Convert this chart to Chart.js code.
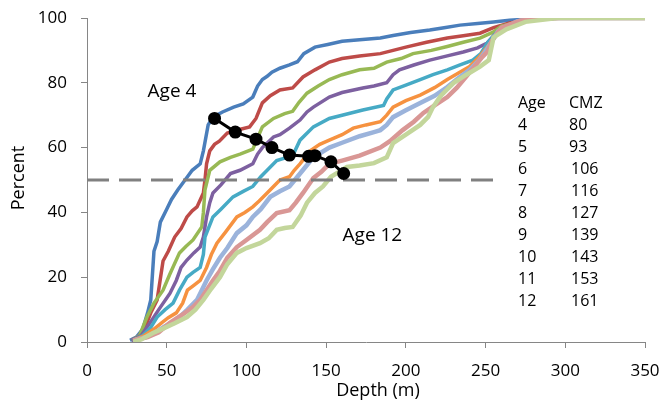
<!DOCTYPE html>
<html>
<head>
<meta charset="utf-8">
<script src="https://cdn.jsdelivr.net/npm/chart.js@4.4.1/dist/chart.umd.min.js"></script>
<style>
  body { margin: 0; background: #fff; }
  #wrap { width: 665px; height: 411px; position: relative; }
</style>
</head>
<body>
<div id="wrap"><canvas id="chart"></canvas></div>
<script>
// cumulative percent vs depth, one curve per age: [depth, percent]
const age4 = [[27,0.5],[31,1.5],[35,4],[38,9],[40,13],[42,28],[44,31],[46,37],[50,41],[53,44],[57,47],[60,49],[63,51],[66,53],[71,55],[73,59],[76,67],[79,69.4],[85,71],[92,72.5],[98,73.5],[104,75.6],[107,79],[110,81],[113,82],[116,83.3],[121,84.5],[127,85.5],[132,86.5],[136,89],[143,91],[151,91.8],[160,92.8],[171,93.3],[184,93.8],[192,94.6],[203,95.5],[215,96.3],[224,97],[234,97.8],[245,98.3],[255,98.8],[265,99.3],[280,99.8],[300,100],[350,100]];
const age5 = [[28,0.5],[32,1.5],[36,4],[40,9],[44,13],[47.7,25],[51,28],[55,32.4],[59,35],[62.7,38.6],[66,40.5],[69,41.7],[73,46],[74,50],[75,55],[77,59],[80,61],[83,62],[88,64.5],[95,65.5],[102,66.4],[106,69],[110,73.8],[115,76],[121,77.8],[129,78.4],[135.5,81.8],[143,84],[152,86.4],[160,87.5],[171,88.3],[184,89],[192,90],[200,91],[213,92.5],[226,93.8],[236,94.5],[246.5,95.3],[255,97],[265,98.5],[280,99.5],[300,100],[350,100]];
const age6 = [[28,0.5],[33,2],[37.6,7.7],[42,12],[47.7,16],[52,21],[58,27.5],[62,29.5],[66.5,31.5],[72,35.5],[73,40],[74,47],[77,53],[83.4,55.6],[90,57],[96,58],[104,59.5],[107,63],[110,66.4],[117,69],[124,70.5],[129,71.2],[133,74],[138,76.8],[145,79],[152,81],[160,82.5],[171,84],[180,84.5],[188,86.4],[197,87.5],[204.5,89],[216,90],[226,91.2],[236,92.5],[246.5,93.8],[255,95.7],[260,97.5],[275,99.3],[295,100],[350,100]];
const age7 = [[28,0.5],[34,2],[39.5,5.9],[45,10],[52,15],[56,19],[59,23],[62.7,25.3],[67,27.5],[71,29.3],[73,32.4],[75,38.6],[77,43],[79,46],[84,48.5],[90,52],[96,53],[104,55],[107,58],[110,60],[117,63.3],[121,64],[127,66],[133.6,68.5],[138,71],[142,72.5],[152,75.6],[160,77],[173,78.4],[180,79],[188,80],[192,82.5],[196,84],[205,85.5],[215,87],[226,88.3],[236,89.5],[245,90.8],[251,92.3],[255,94.5],[262,97.5],[278,99.3],[295,100],[350,100]];
const age8 = [[29,0.5],[35,2],[40,4.5],[44,7.7],[49,10],[54,12],[58,16],[62.7,20],[66.5,21.5],[71,23],[73,27],[74,32.4],[79,38.6],[84,41],[91.6,44.8],[98,46.5],[104,48],[109,51],[113,53],[119,56],[125.5,57],[129,57.5],[133.6,62.3],[142,66.4],[152,69],[160,70],[173,71.6],[186,73],[188,75],[192,77.8],[200,79.3],[209,81],[217,82.5],[226,84],[234,85.5],[242,87],[247,89],[251,92.3],[258,96],[270,98.8],[290,100],[350,100]];
const age9 = [[29,0.5],[36,2],[42,4],[47,6],[51,7.5],[56,9],[60,12],[63,16],[67,17.5],[71,19],[75,23],[78,27],[81.5,30.5],[87,34],[94,38.6],[99,40],[104,41.7],[108,43.5],[113,46],[117,48],[121,50],[127,51],[130,53],[133.6,55],[140,59],[146,61],[152,62.3],[160,64],[167,66],[175,67],[184,68],[188,70],[192,72.5],[200,74.5],[209,76.2],[218,78.5],[226,81],[233,83],[240,85],[246,88],[251,91],[258,95.5],[270,98.8],[290,100],[350,100]];
const age10 = [[29,0.5],[37,1.5],[43,3],[48,4.6],[53,6],[58,7.7],[63,10],[69,13],[72,16],[75,19],[79,22.5],[83.4,26],[88,29],[94,33.6],[100,36],[104,38.6],[109,41],[115,44.8],[121,46.5],[127,48],[132,51],[137,54],[142,57],[152,60],[160,61.5],[171,63.5],[180,64.8],[184,65.4],[188,67],[192,69.4],[200,71.5],[209,73.8],[218,76],[226,78.7],[233,81.5],[240,84],[246,87],[251,90.5],[258,96],[270,99],[290,100],[350,100]];
const age11 = [[29,0.5],[38,1.5],[45,3],[52,5.9],[60,8.5],[66.5,10.8],[71,13],[75,16],[79,19],[83.4,22],[88,26],[94,29.3],[100,31.5],[108.5,34.6],[113,37],[119,39.8],[127,40.7],[131,43],[135.5,46],[142,50.6],[147,52.5],[152,55],[160,56],[171,57.5],[184,60],[190,62],[198,65.4],[205,68],[211,70.7],[218,73],[226,75.6],[232,78.5],[238,82],[243,85],[248,88],[251,89.5],[254,93],[260,97],[272,99.2],[292,100],[350,100]];
const age12 = [[29,0],[34,0.8],[41.4,2.8],[48,4.2],[55,5.8],[62.7,7.7],[68,10],[73,13],[78,16.5],[83.4,20],[88,24],[94,27.5],[100,29],[108.5,30.5],[114,32],[119,34.6],[124,35.2],[129,35.5],[134,39],[138,43],[143,46],[148,48],[153,51],[158,52.5],[163,54],[171,54.5],[180,55.2],[188,57],[192,61.4],[200,64],[209,67],[214,69.5],[217,72.5],[222,76],[226,78],[230,80],[238,82.5],[246.5,85],[252,87],[255,94],[263,96.5],[275,98.8],[295,100],[350,100]];

// CMZ depth per age and the percent where it crosses each curve
const ages = [4, 5, 6, 7, 8, 9, 10, 11, 12];
const cmz = [80, 93, 106, 116, 127, 139, 143, 153, 161];
const cmzPct = [69, 64.8, 62.6, 60, 57.7, 57.3, 57.5, 55.6, 52];

const halfLine = [[0, 50], [258, 50]];
const xTicks = [0, 50, 100, 150, 200, 250, 300, 350];
const yTicks = [0, 20, 40, 60, 80, 100];

const curves = [age4, age5, age6, age7, age8, age9, age10, age11, age12];
const colors = ["#4A7EBB", "#BE4B48", "#98B954", "#7D60A0", "#46AAC5", "#F69240", "#9BB3DB", "#D99795", "#C3D69B"];
const widths = [3.5, 3.5, 3.5, 3.5, 3.5, 3.5, 4.5, 4.5, 4.5];

const toXY = (arr) => arr.map(([x, y]) => ({ x, y }));
const FONT = "'Open Sans', sans-serif";

const datasets = curves.map((c, i) => ({
  label: "Age " + ages[i],
  data: toXY(c),
  borderColor: colors[i],
  borderWidth: widths[i],
  pointRadius: 0,
  tension: 0,
  order: 20 - i,
}));
datasets.push({
  label: "50%",
  data: toXY(halfLine),
  borderColor: "#808080",
  borderWidth: 3,
  borderDash: [22, 10],
  pointRadius: 0,
  order: 1,
});
datasets.push({
  label: "CMZ",
  data: cmz.map((x, i) => ({ x, y: cmzPct[i] })),
  borderColor: "#000",
  backgroundColor: "#000",
  borderWidth: 3,
  pointRadius: 5,
  order: 0,
});

const textPlugin = {
  id: "texts",
  afterDatasetsDraw(chart) {
    const { ctx, scales: { x, y } } = chart;
    ctx.save();
    ctx.fillStyle = "#000";
    ctx.textBaseline = "middle";
    ctx.textAlign = "center";
    ctx.font = "19px " + FONT;
    ctx.fillText("Age 4", x.getPixelForValue(53.3), y.getPixelForValue(77.2));
    ctx.fillText("Age 12", x.getPixelForValue(179), y.getPixelForValue(32.7));

    // table of age / CMZ
    ctx.textAlign = "left";
    ctx.font = "16px " + FONT;
    const x1 = 518, x2 = 569;
    let ty = 103;
    ctx.fillText("Age", x1, ty);
    ctx.fillText("CMZ", x2, ty);
    ages.forEach((a, i) => {
      ty = 125 + i * 22;
      ctx.fillText(String(a), x1, ty);
      ctx.fillText(String(cmz[i]), x2 + (cmz[i] >= 100 ? 2 : 0), ty);
    });

    // axis titles
    ctx.font = "18px " + FONT;
    ctx.textAlign = "center";
    ctx.fillText("Depth (m)", 378, 391);
    ctx.translate(19, 178);
    ctx.rotate(-Math.PI / 2);
    ctx.fillText("Percent", 0, 0);
    ctx.restore();
  },
};

new Chart(document.getElementById("chart"), {
  type: "line",
  data: { datasets },
  options: {
    responsive: true,
    maintainAspectRatio: false,
    animation: false,
    layout: { padding: { left: 0, right: 20, top: 18, bottom: 0 } },
    plugins: { legend: { display: false }, tooltip: { enabled: false } },
    scales: {
      x: {
        type: "linear",
        min: 0,
        max: 350,
        afterBuildTicks: (s) => { s.ticks = xTicks.map((v) => ({ value: v })); },
        afterFit: (s) => { s.height = 69; s.paddingLeft = 0; s.paddingRight = 0; },
        grid: { drawOnChartArea: false, drawTicks: true, tickLength: 6, color: "#868686", lineWidth: 1 },
        border: { color: "#868686", width: 1 },
        ticks: { color: "#000", font: { size: 17, family: FONT }, padding: 13, maxRotation: 0 },
      },
      y: {
        min: 0,
        max: 100,
        afterBuildTicks: (s) => { s.ticks = yTicks.map((v) => ({ value: v })); },
        afterFit: (s) => { s.width = 87; s.paddingTop = 0; s.paddingBottom = 0; },
        grid: { drawOnChartArea: false, drawTicks: true, tickLength: 6, color: "#868686", lineWidth: 1 },
        border: { color: "#868686", width: 1 },
        ticks: { color: "#000", font: { size: 17, family: FONT }, padding: 14 },
      },
    },
  },
  plugins: [textPlugin],
});
</script>
</body>
</html>
